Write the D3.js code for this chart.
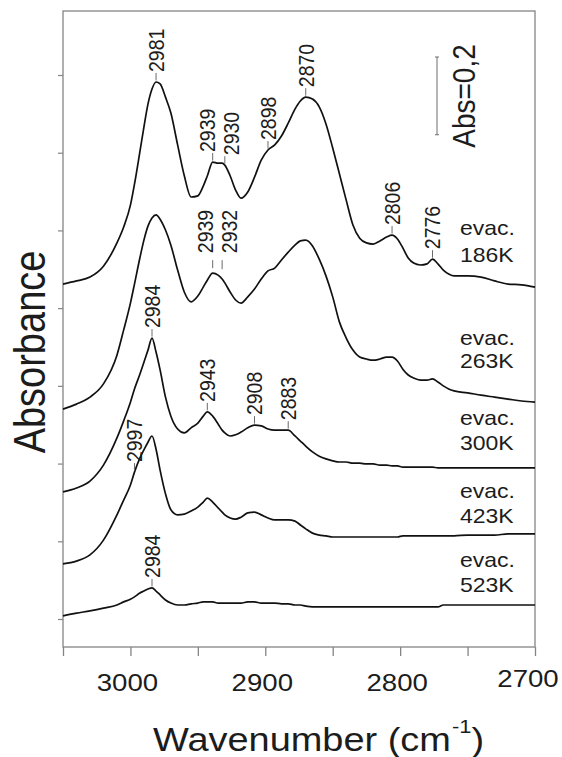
<!DOCTYPE html>
<html>
<head>
<meta charset="utf-8">
<script src="https://cdn.jsdelivr.net/npm/d3@7"></script>
<style>
  body { margin: 0; background: #fff; }
  text { font-family: "Liberation Sans", Arial, sans-serif; fill: #1c1c1c; }
</style>
</head>
<body>
<svg id="chart" width="562" height="757"></svg>
<script>
// wavenumber grid (cm-1), shared by all spectra
const wavenumbers = [3050,3040,3030,3020,3010,3005,3000,2997,2993,2990,2987,2984,2981,2978,2974,2970,2965,2960,2955,2950,
  2946,2943,2939,2935,2932,2930,2926,2922,2918,2913,2908,2903,2898,2893,2888,2883,2878,2874,2870,2865,
  2860,2855,2850,2845,2840,2835,2830,2825,2820,2815,2810,2806,2802,2798,2794,2790,2785,2780,2776,2772,
  2768,2764,2760,2750,2740,2730,2720,2710,2700];

// absorbance (offset spectra, as plotted)
const evac186 = [0.862,0.870,0.880,0.908,0.968,1.009,1.065,1.119,1.202,1.266,1.325,1.364,1.382,1.377,1.343,1.302,1.220,1.140,1.086,1.089,
  1.114,1.140,1.176,1.173,1.173,1.168,1.140,1.104,1.083,1.099,1.137,1.181,1.207,1.220,1.243,1.276,1.312,1.333,1.343,1.338,
  1.318,1.274,1.212,1.145,1.078,1.014,0.980,0.968,0.965,0.973,0.983,0.988,0.978,0.955,0.929,0.916,0.911,0.914,0.926,0.914,
  0.898,0.888,0.883,0.883,0.880,0.870,0.862,0.860,0.854];
const evac263 = [0.540,0.553,0.571,0.605,0.679,0.744,0.813,0.862,0.929,0.975,1.011,1.032,1.040,1.029,1.001,0.962,0.898,0.841,0.816,0.831,
  0.854,0.872,0.890,0.885,0.875,0.865,0.841,0.821,0.813,0.829,0.849,0.875,0.896,0.903,0.924,0.944,0.962,0.973,0.975,0.960,
  0.926,0.883,0.829,0.764,0.723,0.692,0.674,0.669,0.666,0.669,0.674,0.674,0.664,0.643,0.628,0.620,0.615,0.615,0.618,0.610,
  0.600,0.592,0.587,0.582,0.576,0.571,0.566,0.561,0.558];
const evac300 = [0.327,0.337,0.355,0.396,0.466,0.510,0.558,0.592,0.630,0.661,0.692,0.723,0.687,0.641,0.571,0.522,0.489,0.479,0.492,0.504,
  0.522,0.533,0.522,0.502,0.486,0.479,0.471,0.474,0.481,0.492,0.499,0.497,0.489,0.486,0.486,0.486,0.471,0.458,0.445,0.430,
  0.419,0.412,0.407,0.404,0.404,0.401,0.401,0.399,0.399,0.396,0.396,0.394,0.394,0.391,0.391,0.391,0.391,0.391,0.391,0.389,
  0.389,0.389,0.389,0.389,0.389,0.389,0.389,0.389,0.389];
const evac423 = [0.142,0.149,0.165,0.203,0.268,0.306,0.345,0.378,0.414,0.435,0.455,0.471,0.437,0.383,0.322,0.281,0.268,0.270,0.278,0.288,
  0.301,0.311,0.301,0.286,0.275,0.268,0.260,0.257,0.262,0.273,0.275,0.268,0.260,0.255,0.255,0.255,0.252,0.242,0.232,0.221,
  0.216,0.214,0.211,0.211,0.211,0.211,0.211,0.211,0.211,0.211,0.211,0.211,0.211,0.214,0.214,0.214,0.214,0.214,0.214,0.214,
  0.214,0.214,0.214,0.216,0.216,0.216,0.219,0.219,0.219];
const evac523 = [0.008,0.015,0.021,0.028,0.036,0.044,0.051,0.057,0.067,0.072,0.077,0.080,0.072,0.062,0.049,0.041,0.036,0.036,0.039,0.041,
  0.044,0.044,0.044,0.041,0.041,0.041,0.041,0.041,0.041,0.044,0.044,0.041,0.041,0.041,0.039,0.039,0.036,0.036,0.033,0.031,
  0.031,0.031,0.031,0.031,0.031,0.031,0.031,0.031,0.031,0.031,0.031,0.031,0.031,0.031,0.031,0.031,0.031,0.031,0.031,0.031,
  0.036,0.036,0.036,0.036,0.036,0.036,0.036,0.036,0.036];

const seriesNames = ["186K", "263K", "300K", "423K", "523K"];
const peakMarks = [
  [2981, 2939, 2930, 2898, 2870, 2806, 2776],
  [2939, 2932],
  [2984, 2943, 2908, 2883],
  [2997],
  [2984]
];
const xTicks = [3050, 3000, 2950, 2900, 2850, 2800, 2750, 2700];
const xTickLabels = [3000, 2900, 2800, 2700];
const yTicks = [0, 0.2, 0.4, 0.6, 0.8, 1.0, 1.2, 1.4];
const scaleBarAbs = 0.2;

const series = [evac186, evac263, evac300, evac423, evac523];

// layout
const k = 1.15; // horizontal stretch of the lettering
const frame = { left: 63, right: 535, top: 11, bottom: 647 };
const nameY = [235, 345, 425, 498, 567];
const nameGap = [27, 23, 25, 25, 25];
const alignPeaks = [false, true, false, false, false];
const grey = "#858585";

const svg = d3.select("#chart");

const x = d3.scaleLinear().domain([3050, 2700]).range([frame.left, frame.right]);
const y = d3.scaleLinear().domain([0, 1.4]).range([619, 75]);

// frame
svg.append("rect")
  .attr("x", frame.left).attr("y", frame.top)
  .attr("width", frame.right - frame.left).attr("height", frame.bottom - frame.top)
  .attr("fill", "none").attr("stroke", grey).attr("stroke-width", 1.3);

// axes (ticks only)
svg.append("g")
  .attr("transform", `translate(0,${frame.bottom})`)
  .call(d3.axisBottom(x).tickValues(xTicks).tickSize(9).tickSizeOuter(0).tickFormat(""))
  .call(g => {
    g.select(".domain").remove();
    g.selectAll("line").attr("stroke", grey).attr("stroke-width", 1.3);
  });

svg.append("g")
  .attr("transform", `translate(${frame.left},0)`)
  .call(d3.axisLeft(y).tickValues(yTicks).tickSize(5).tickSizeOuter(0).tickFormat(""))
  .call(g => {
    g.select(".domain").remove();
    g.selectAll("line").attr("stroke", grey).attr("stroke-width", 1.2);
  });

// x tick labels
svg.selectAll(".xlab").data(xTickLabels).enter().append("text")
  .attr("class", "xlab")
  .attr("transform", d => `translate(${x(d) - (d === 2700 ? 7 : 3)},${d === 2700 ? 687 : 691}) scale(${k},1)`)
  .attr("text-anchor", "middle")
  .attr("font-size", 24)
  .text(d => d);

// axis titles
svg.append("text")
  .attr("transform", `translate(30,352) scale(${k},1) rotate(-90)`)
  .attr("text-anchor", "middle")
  .attr("dy", "0.35em")
  .attr("font-size", 38)
  .text("Absorbance");

const xt = svg.append("text")
  .attr("transform", `translate(153,751) scale(${k},1)`)
  .attr("font-size", 33);
xt.append("tspan").text("Wavenumber (cm");
xt.append("tspan").attr("font-size", 19).attr("dy", -18).attr("dx", 1).text("-1");
xt.append("tspan").attr("dy", 18).text(")");

// spectra
const line = d3.line()
  .x((d, i) => x(wavenumbers[i]))
  .y(d => y(d))
  .curve(d3.curveMonotoneX);

svg.selectAll(".spectrum").data(series).enter().append("path")
  .attr("class", "spectrum")
  .attr("d", line)
  .attr("fill", "none")
  .attr("stroke", "#111")
  .attr("stroke-width", 1.7)
  .attr("stroke-linejoin", "round");

// peak labels
peakMarks.forEach((marks, s) => {
  const pts = marks.map(wn => ({ wn, cx: x(wn), cy: y(series[s][wavenumbers.indexOf(wn)]) }));
  pts.forEach(p => { p.tx = p.cx; });
  // spread labels that would overlap
  for (let i = 1; i < pts.length; i++) {
    const a = pts[i - 1], b = pts[i];
    if (b.cx - a.cx < 20) {
      const mid = (a.cx + b.cx) / 2;
      a.tx = mid - 12; b.tx = mid + 12;
    }
  }
  const top = d3.min(pts, p => p.cy);
  pts.forEach(p => {
    const base = alignPeaks[s] ? top - 20 : p.cy - 10;
    svg.append("line")
      .attr("x1", p.cx).attr("x2", p.cx)
      .attr("y1", alignPeaks[s] ? base + 7 : base + 1)
      .attr("y2", alignPeaks[s] ? Math.min(p.cy - 5, base + 16) : p.cy - 1.5)
      .attr("stroke", "#6a6a6a").attr("stroke-width", 1);
    svg.append("text")
      .attr("transform", `translate(${p.tx},${base}) scale(${k},1) rotate(-90)`)
      .attr("dy", "0.35em")
      .attr("font-size", 19.5)
      .text(p.wn);
  });
});

// series names
seriesNames.forEach((name, s) => {
  svg.append("text")
    .attr("transform", `translate(460,${nameY[s]}) scale(${k},1)`)
    .attr("font-size", 20)
    .text("evac.");
  svg.append("text")
    .attr("transform", `translate(460,${nameY[s] + nameGap[s]}) scale(${k},1)`)
    .attr("font-size", 20)
    .text(name);
});

// scale bar
const barX = 437, barTop = 57;
const barLen = y(0) - y(scaleBarAbs);
svg.append("line")
  .attr("x1", barX).attr("x2", barX).attr("y1", barTop).attr("y2", barTop + barLen)
  .attr("stroke", "#7a7a7a").attr("stroke-width", 1.1);
[barTop, barTop + barLen].forEach(v => {
  svg.append("line")
    .attr("x1", barX - 2).attr("x2", barX + 2).attr("y1", v).attr("y2", v)
    .attr("stroke", "#7a7a7a").attr("stroke-width", 1.1);
});
svg.append("text")
  .attr("transform", `translate(464,96) scale(${k},1) rotate(-90)`)
  .attr("text-anchor", "middle")
  .attr("dy", "0.35em")
  .attr("font-size", 28)
  .text("Abs=0," + String(scaleBarAbs).split(".")[1]);
</script>
</body>
</html>
